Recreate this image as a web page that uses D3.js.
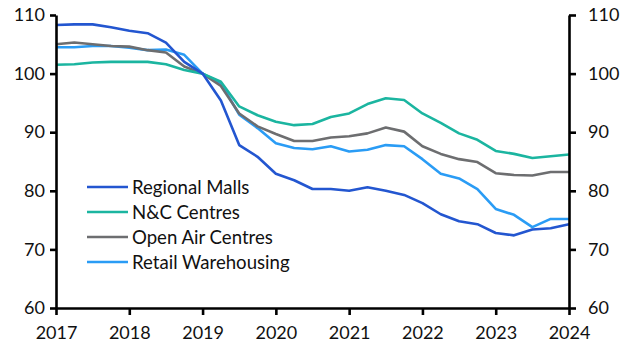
<!DOCTYPE html>
<html><head><meta charset="utf-8">
<script src="https://cdn.jsdelivr.net/npm/d3@7"></script>
<style>body{margin:0;background:#fff}svg{display:block}</style>
</head><body><svg id="c" width="630" height="355"></svg>
<script>
const quarters = d3.range(29).map(i => 2017 + i / 4);
const regionalMalls = [108.3,108.4,108.4,107.9,107.3,106.9,105.3,102.0,100.0,95.4,87.8,85.8,82.9,81.8,80.3,80.3,80.0,80.6,80.0,79.3,77.9,76.0,74.8,74.3,72.8,72.4,73.4,73.6,74.3];
const ncCentres = [101.5,101.6,101.9,102.0,102.0,102.0,101.6,100.6,100.0,98.6,94.4,92.9,91.8,91.2,91.4,92.6,93.2,94.8,95.8,95.5,93.2,91.6,89.8,88.7,86.8,86.3,85.6,85.9,86.2];
const openAir = [105.0,105.3,105.0,104.7,104.6,104.0,103.6,101.2,100.0,97.9,93.2,91.0,89.7,88.5,88.5,89.1,89.3,89.8,90.8,90.1,87.6,86.3,85.4,84.9,83.0,82.7,82.6,83.2,83.2];
const retailWarehousing = [104.5,104.5,104.7,104.7,104.4,104.0,104.1,103.2,100.0,98.4,93.0,90.7,88.1,87.3,87.1,87.6,86.7,87.0,87.8,87.6,85.4,82.9,82.1,80.3,76.9,75.9,73.8,75.2,75.2];
const seriesNames = ["Regional Malls","N&C Centres","Open Air Centres","Retail Warehousing"];
const seriesColors = ["#2356d0","#1bb5a0","#6d6e70","#2a9cf5"];
const yTicks = [60,70,80,90,100,110];
const xTicks = [2017,2018,2019,2020,2021,2022,2023,2024];

const allSeries = [regionalMalls, ncCentres, openAir, retailWarehousing];
const svg = d3.select("#c");
const mLeft = 56, mRight = 569, mTop = 15, mBottom = 308;
const x = d3.scaleLinear().domain([2017, 2024]).range([mLeft, mRight]);
const y = d3.scaleLinear().domain([60, 110]).range([mBottom, mTop]);
const font = "Lato, sans-serif";

const line = d3.line().x((d, i) => x(quarters[i])).y(d => y(d));
const order = [3,2,1,0];
order.forEach(k => {
  svg.append("path").datum(allSeries[k]).attr("d", line)
    .attr("fill","none").attr("stroke", seriesColors[k]).attr("stroke-width", 2.6)
    .attr("stroke-linejoin","round");
});

function styleAxis(g){
  g.select(".domain").attr("stroke","#000").attr("stroke-width",2.6);
  g.selectAll(".tick line").attr("stroke","#000").attr("stroke-width",2.6);
  g.selectAll(".tick text").attr("fill","#111").style("font-family",font).style("font-size","18px");
}
const yl = svg.append("g").attr("transform",`translate(${mLeft},0)`)
  .call(d3.axisLeft(y).tickValues(yTicks).tickSize(6).tickSizeOuter(0).tickPadding(5));
styleAxis(yl);
const yr = svg.append("g").attr("transform",`translate(${mRight},0)`)
  .call(d3.axisRight(y).tickValues(yTicks).tickSize(7).tickSizeOuter(0).tickPadding(12));
styleAxis(yr);
const xa = svg.append("g").attr("transform",`translate(0,${mBottom})`)
  .call(d3.axisBottom(x).tickValues(xTicks).tickFormat(d3.format("d")).tickSize(7).tickSizeOuter(0).tickPadding(11));
styleAxis(xa);

const lg = svg.append("g");
seriesNames.forEach((n, i) => {
  const yy = 187 + i * 25;
  lg.append("line").attr("x1",87).attr("x2",128).attr("y1",yy).attr("y2",yy)
    .attr("stroke",seriesColors[i]).attr("stroke-width",2.6);
  lg.append("text").attr("x",132).attr("y",yy).attr("dy","0.35em")
    .attr("fill","#111").style("font-family",font).style("font-size","18.6px").text(n);
});
</script></body></html>
